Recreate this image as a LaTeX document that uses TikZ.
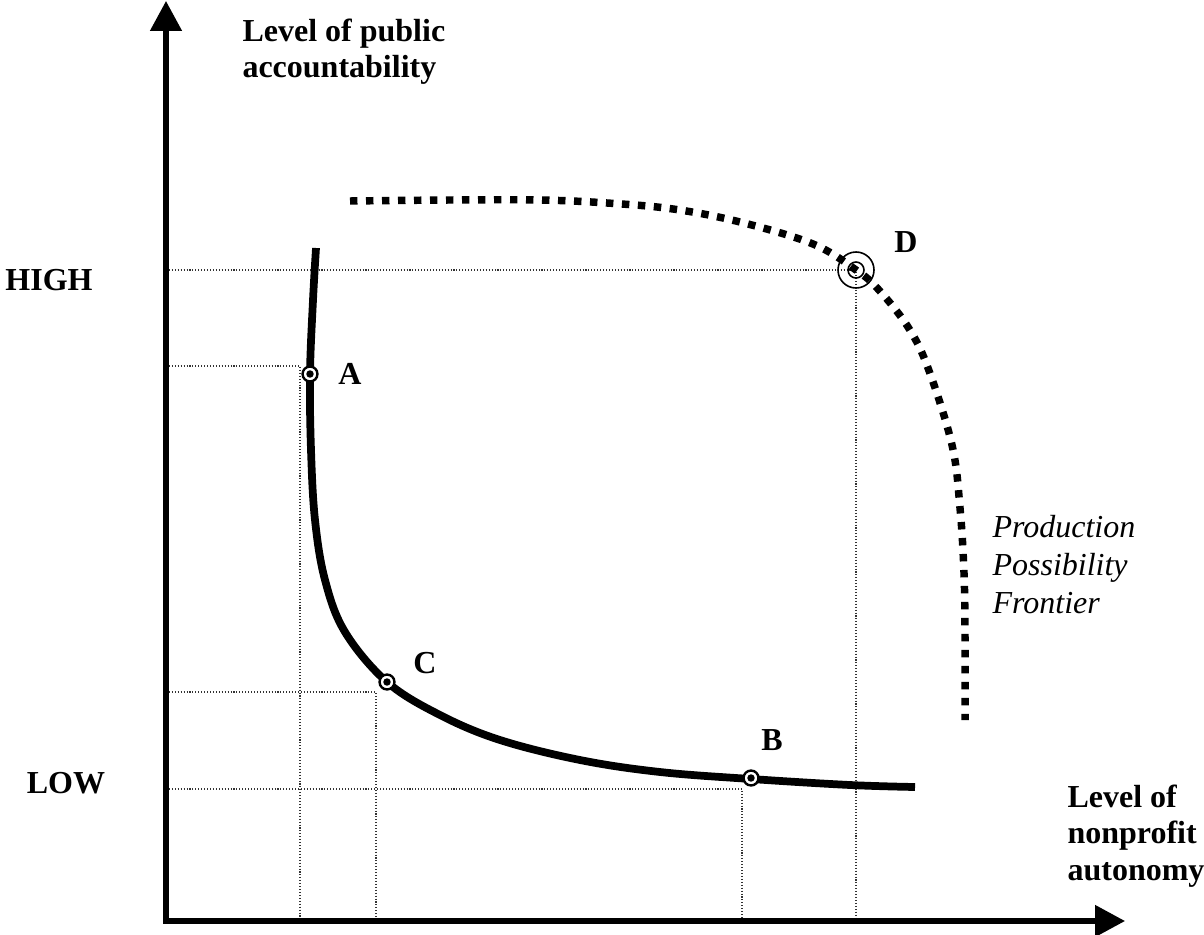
\documentclass[tikz,border=0pt,12pt]{standalone}
\usepackage{fontspec}
\setmainfont{Liberation Serif}
\usetikzlibrary{arrows.meta}
\begin{document}
\begin{tikzpicture}[x=0.375pt,y=-0.375pt,
  axisline/.style={line width=1.9pt,line join=miter,
    {Triangle[length=11.25pt,width=11.6pt]}-{Triangle[length=11.25pt,width=11.6pt]}},
  gridline/.style={line width=0.4pt,black!80,dash pattern=on 0.4pt off 0.7pt},
  curveline/.style={line width=2.9pt},
  ppfline/.style={line width=2.8pt,dash pattern=on 2.8pt off 3.2pt},
  ptmark/.style={circle,draw,fill=white,line width=0.9pt,minimum size=5.6pt,inner sep=0pt,
    path picture={\fill[black] (path picture bounding box.center) circle (1.4pt);}},
  dmark/.style={circle,draw,line width=0.6pt,minimum size=13.5pt,inner sep=0pt,
    path picture={\draw[black,line width=0.6pt] (path picture bounding box.center) circle (3pt);}},
  ptlabel/.style={font=\fontsize{12}{13.8}\selectfont\bfseries,inner sep=0pt},
  axlabel/.style={font=\fontsize{12}{13.8}\selectfont\bfseries,inner sep=0pt,align=left,anchor=north west},
]
\useasboundingbox (0,0) rectangle (1204,934);
\coordinate (O) at (166,921);
\coordinate (ytip) at (166,1);
\coordinate (xtip) at (1125,921);
\coordinate (gA) at (300,366);
\coordinate (gC) at (376,692);
\coordinate (gB) at (742,789);
\coordinate (gD) at (856,270);
% grid lines
\draw[gridline] (gD -| O) -- (gD) -- (gD |- O);
\draw[gridline] (gA -| O) -- (gA) -- (gA |- O);
\draw[gridline] (gC -| O) -- (gC) -- (gC |- O);
\draw[gridline] (gB -| O) -- (gB) -- (gB |- O);
% production possibility frontier
\draw[ppfline] plot[smooth,tension=0.6] coordinates {(350,201) (450,200) (540,200) (607,203) (673,209) (740,222) (813,244) (856,270) (878,289) (908,327) (928,368) (952,445) (960,508) (964,573) (965,637) (965,720)};
% solid curve
\draw[curveline] plot[smooth,tension=0.6] coordinates {(316,248) (313,300) (310,374) (311,450) (315,520) (325,580) (345,632) (387,682) (440,715) (500,740) (580,760) (660,772) (751,779) (850,785) (915,787)};
% axes
\draw[axisline] (ytip) |- (xtip);
% markers
\node[ptmark] (A) at (310,374) {};
\node[ptmark] (C) at (387,682) {};
\node[ptmark] (B) at (751,778) {};
\node[dmark] (D) at (856,270) {};
% labels
\node[ptlabel] (lA) at (350,374) {A};
\node[ptlabel] (lC) at (425,663) {C};
\node[ptlabel] (lB) at (772,740) {B};
\node[ptlabel] (lD) at (906,242) {D};
\node[ptlabel] (high) at (49,280) {HIGH};
\node[ptlabel] (low) at (66,783) {LOW};
\node[axlabel] (yl) at (242,18) {Level of public\\accountability};
\node[axlabel] (xl) at (1067,784) {Level of\\nonprofit\\autonomy};
\node[inner sep=0pt,align=left,anchor=north west,font=\fontsize{12}{14.2}\selectfont\itshape] (ppf) at (992,515) {Production\\Possibility\\Frontier};
\end{tikzpicture}
\end{document}
